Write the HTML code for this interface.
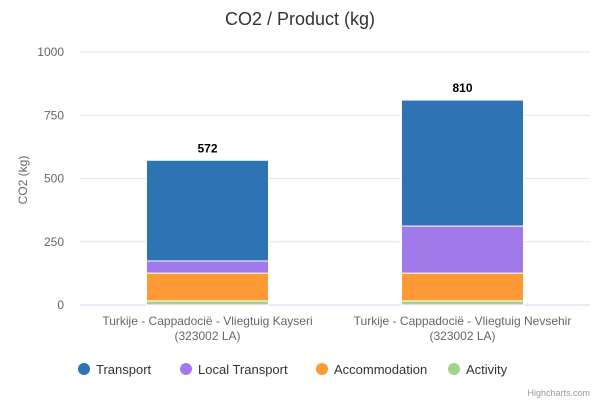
<!DOCTYPE html>
<html><head><meta charset="utf-8"><style>
body{margin:0;background:#fff;font-family:"Liberation Sans",sans-serif}
</style></head><body>
<svg width="600" height="400" xmlns="http://www.w3.org/2000/svg">
<text x="300" y="25" text-anchor="middle" font-size="18" fill="#333">CO2 / Product (kg)</text>
<g id="grid"></g><g id="bars"></g><g id="labels"></g>
<text transform="translate(27,180) rotate(-90)" text-anchor="middle" font-size="12" fill="#666">CO2 (kg)</text>
<g id="legend"></g>
<text x="590" y="396" text-anchor="end" font-size="9" fill="#999">Highcharts.com</text>
</svg>
<script>
const categories=[["Turkije - Cappadocië - Vliegtuig Kayseri","(323002 LA)"],["Turkije - Cappadocië - Vliegtuig Nevsehir","(323002 LA)"]];
const seriesNames=["Activity","Accommodation","Local Transport","Transport"];
const activity=[16,16];
const accommodation=[110,110];
const localTransport=[48,186];
const transport=[398,498];
const totals=[572,810];
const ticks=[0,250,500,750,1000];
const colors=["#a3d18e","#fd9a36","#9f7ae8","#2e74b5"];
const ns="http://www.w3.org/2000/svg";
const X0=80,X1=590,Y0=305,Y1=52;
const y=v=>Y0-(v/1000)*(Y0-Y1);
const catW=(X1-X0)/categories.length;
const cx=i=>X0+catW*(i+0.5);
function mk(tag,attrs,parent,text){const e=document.createElementNS(ns,tag);for(const k in attrs)e.setAttribute(k,attrs[k]);if(text!==undefined)e.textContent=text;document.getElementById(parent).appendChild(e);return e;}
ticks.forEach(t=>{
  const l=mk('line',{x1:X0,x2:X1,y1:y(t),y2:y(t),stroke:t===0?'#ccd6eb':'#e6e6e6'},'grid');
  
  
  const tx=mk('text',{x:64,y:y(t)+4,'text-anchor':'end','font-size':12,fill:'#666'},'grid',t);
  
  
});
const data=[activity,accommodation,localTransport,transport];
categories.forEach((c,i)=>{
  let base=0;const bx=cx(i)-61;
  data.forEach((s,k)=>{
    const r=mk('rect',{x:bx,y:y(base+s[i]),width:122,height:y(base)-y(base+s[i]),fill:colors[k],stroke:'#fff','stroke-width':1},'bars');
    
    
    base+=s[i];
  });
  const tl=mk('text',{x:cx(i),y:y(totals[i])-8,'text-anchor':'middle','font-size':12,'font-weight':'bold',fill:'#000'},'labels',totals[i]);
  
  
  c.forEach((line,j)=>{
    const t=mk('text',{x:cx(i),y:325+j*15,'text-anchor':'middle','font-size':12,fill:'#666'},'labels',line);
    
    
  });
});
const leg=[["Transport",3,78],["Local Transport",2,180],["Accommodation",1,316],["Activity",0,448]];
leg.forEach(([n,k,x])=>{
  const g=mk('g',{},'legend');
  
  
  const c=document.createElementNS(ns,'circle');c.setAttribute('cx',x+6);c.setAttribute('cy',369);c.setAttribute('r',6);c.setAttribute('fill',colors[k]);g.appendChild(c);
  const t=document.createElementNS(ns,'text');t.setAttribute('x',x+18);t.setAttribute('y',374);t.setAttribute('font-size',13);t.setAttribute('fill','#333');t.textContent=n;g.appendChild(t);
});
</script>
</body></html>
